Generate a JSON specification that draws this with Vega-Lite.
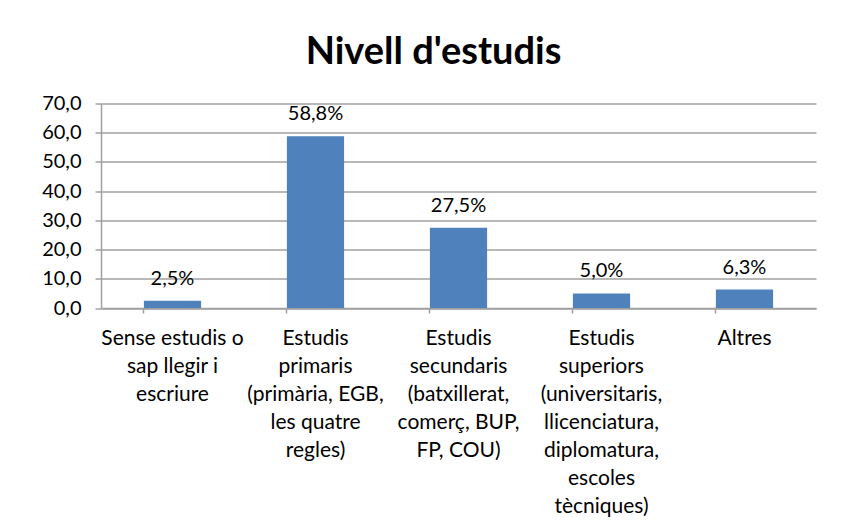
{
  "$schema": "https://vega.github.io/schema/vega-lite/v6.json",
  "width": 715,
  "height": 204.5,
  "autosize": "none",
  "padding": {"left": 101, "top": 103.5, "right": 27, "bottom": 218},
  "background": "white",
  "title": {"text": "Nivell d'estudis", "font": "Lato", "fontSize": 38, "fontWeight": "bold", "color": "#000000", "anchor": "middle", "dx": -25, "dy": 36, "baseline": "alphabetic", "offset": 28},
  "data": {"values": [
    {"cat": "Sense estudis o|sap llegir i|escriure", "value": 2.5, "label": "2,5%"},
    {"cat": "Estudis|primaris|(primària, EGB,|les quatre|regles)", "value": 58.8, "label": "58,8%"},
    {"cat": "Estudis|secundaris|(batxillerat,|comerç, BUP,|FP, COU)", "value": 27.5, "label": "27,5%"},
    {"cat": "Estudis|superiors|(universitaris,|llicenciatura,|diplomatura,|escoles|tècniques)", "value": 5.0, "label": "5,0%"},
    {"cat": "Altres", "value": 6.3, "label": "6,3%"}
  ]},
  "encoding": {
    "x": {"field": "cat", "type": "nominal", "sort": null, "title": null,
      "scale": {"paddingInner": 0.6, "paddingOuter": 0.3},
      "axis": {"labelAngle": 0, "labelExpr": "split(datum.label, '|')", "labelFont": "Lato", "labelFontSize": 21, "labelColor": "#000000", "labelLineHeight": 28, "labelPadding": 14, "labelLimit": 0, "bandPosition": 0, "ticks": true, "tickSize": 5, "tickColor": "#a0a0a0", "tickWidth": 1.5, "domainColor": "#a0a0a0", "domainWidth": 1.5, "labelBaseline": "top"}},
    "y": {"field": "value", "type": "quantitative", "title": null,
      "scale": {"domain": [0, 70]},
      "axis": {"values": [0, 10, 20, 30, 40, 50, 60, 70], "labelExpr": "replace(format(datum.value, '.1f'), '.', ',')", "labelFont": "Lato", "labelFontSize": 20, "labelColor": "#000000", "labelPadding": 14, "grid": true, "gridColor": "#a0a0a0", "gridWidth": 1.5, "tickSize": 6, "tickColor": "#a0a0a0", "tickWidth": 1.5, "domainColor": "#a0a0a0", "domainWidth": 1.5}}
  },
  "layer": [
    {"mark": {"type": "bar", "color": "#4F81BD"}},
    {"mark": {"type": "text", "font": "Lato", "fontSize": 20, "color": "#000000", "baseline": "alphabetic", "dy": -16}, "encoding": {"text": {"field": "label"}}}
  ],
  "config": {"view": {"stroke": null}}
}
